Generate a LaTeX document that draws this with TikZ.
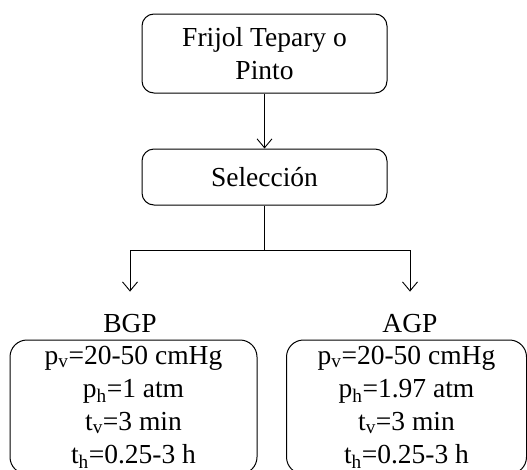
\documentclass[tikz,border=0pt]{standalone}
\usepackage{fontspec}
\setmainfont{Liberation Serif}
\usetikzlibrary{arrows.meta}

\tikzset{
  caja/.style={draw,line width=1pt,rounded corners=12pt,minimum width=245pt,
    align=center,font=\fontsize{27.5}{33}\selectfont},
  datos/.style={draw,line width=1pt,rounded corners=17pt,minimum height=134pt,
    align=center,font=\fontsize{27.5}{33}\selectfont},
  rotulo/.style={inner sep=0pt,anchor=base,font=\fontsize{27.5}{33}\selectfont},
  flecha/.style={line width=0.9pt,-{Straight Barb[length=9pt,width=15pt,line width=0.9pt]}}
}

\begin{document}
\begin{tikzpicture}[x=1pt,y=-1pt]
\useasboundingbox (0,0) rectangle (527,469);
\clip (0,0) rectangle (527,469);

% cajas superiores
\node[caja,minimum height=79pt] (frijol) at (264.5,53.5) {Frijol Tepary o\\Pinto};
\node[caja,minimum height=56pt] (seleccion) at (264.5,177) {Selecci\'on};

% ramas
\coordinate (rama) at (264.5,250);
\node[rotulo] (bgp) at (130,332) {BGP};
\node[rotulo] (agp) at (410,332) {AGP};

% condiciones
\node[datos,minimum width=247pt] (condB) at (133.5,407)
  {p\textsubscript{v}=20-50 cmHg\\p\textsubscript{h}=1 atm\\t\textsubscript{v}=3 min\\t\textsubscript{h}=0.25-3 h};
\node[datos,minimum width=240pt] (condA) at (406.5,407)
  {p\textsubscript{v}=20-50 cmHg\\p\textsubscript{h}=1.97 atm\\t\textsubscript{v}=3 min\\t\textsubscript{h}=0.25-3 h};

\draw[flecha] (frijol) -- (seleccion);
\draw[line width=0.9pt] (seleccion) -- (rama);
\draw[flecha,shorten >=22pt] (rama) -| (bgp.north);
\draw[flecha,shorten >=22pt] (rama) -| (agp.north);

\end{tikzpicture}
\end{document}
